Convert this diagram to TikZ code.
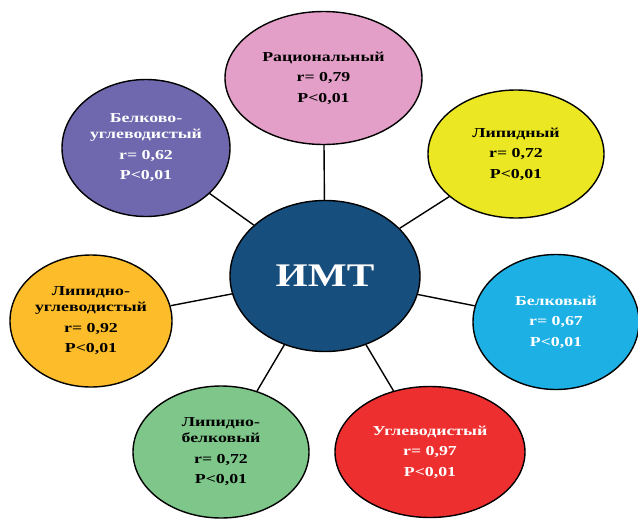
\documentclass[tikz,border=0pt]{standalone}
\usepackage{fontspec}
\setmainfont{Liberation Serif}[FakeStretch=1.25]
\newfontfamily\smallfam{Liberation Serif}[FakeStretch=1.3]
\usetikzlibrary{shapes.geometric}
\definecolor{cpink}{HTML}{E39FC7}
\definecolor{cyellow}{HTML}{EBE723}
\definecolor{cblue}{HTML}{1CB0E4}
\definecolor{cred}{HTML}{EE2F2F}
\definecolor{cgreen}{HTML}{7EC68A}
\definecolor{corange}{HTML}{FDBC2A}
\definecolor{cpurple}{HTML}{6F68AE}
\definecolor{cdark}{HTML}{164E7E}
\tikzset{
  bub/.style={ellipse, draw=black, line width=1.4pt, inner sep=0pt, align=center,
    font=\smallfam\bfseries\fontsize{13.7}{16}\selectfont},
  link/.style={draw=black, line width=1.4pt},
}
\begin{document}
\begin{tikzpicture}[x=1pt,y=-1pt]
\useasboundingbox (0,0) rectangle (638,520);
\node[bub, fill=cdark, text=white, minimum width=190pt, minimum height=151pt,
  font=\rmfamily\bfseries\fontsize{33}{36}\selectfont] (c) at (325,276) {ИМТ};
\node[bub, fill=cpink, minimum width=197pt, minimum height=133pt] (p) at (323.5,78)
  {Рациональный\\[4.5pt] r= 0,79\\[4.5pt] P<0,01};
\node[bub, fill=cyellow, minimum width=176pt, minimum height=128pt] (y) at (516,154)
  {Липидный\\[4.5pt] r= 0,72\\[4.5pt] P<0,01};
\node[bub, fill=cblue, text=white, minimum width=166pt, minimum height=135pt] (b) at (556,322)
  {Белковый\\[4.5pt] r= 0,67\\[4.5pt] P<0,01};
\node[bub, fill=cred, text=white, minimum width=190pt, minimum height=131pt] (r) at (430,452)
  {Углеводистый\\[4.5pt] r= 0,97\\[4.5pt] P<0,01};
\node[bub, fill=cgreen, minimum width=176pt, minimum height=132pt] (g) at (221,452)
  {Липидно-\\белковый\\[4.5pt] r= 0,72\\[4.5pt] P<0,01};
\node[bub, fill=corange, minimum width=162pt, minimum height=132pt] (o) at (91,321)
  {Липидно-\\углеводистый\\[4.5pt] r= 0,92\\[4.5pt] P<0,01};
\node[bub, fill=cpurple, text=white, minimum width=168pt, minimum height=137pt] (u) at (146,148)
  {Белково-\\углеводистый\\[4.5pt] r= 0,62\\[4.5pt] P<0,01};
\foreach \n in {p,y,b,r,g,o,u} { \draw[link] (c) -- (\n); }
\end{tikzpicture}
\end{document}
